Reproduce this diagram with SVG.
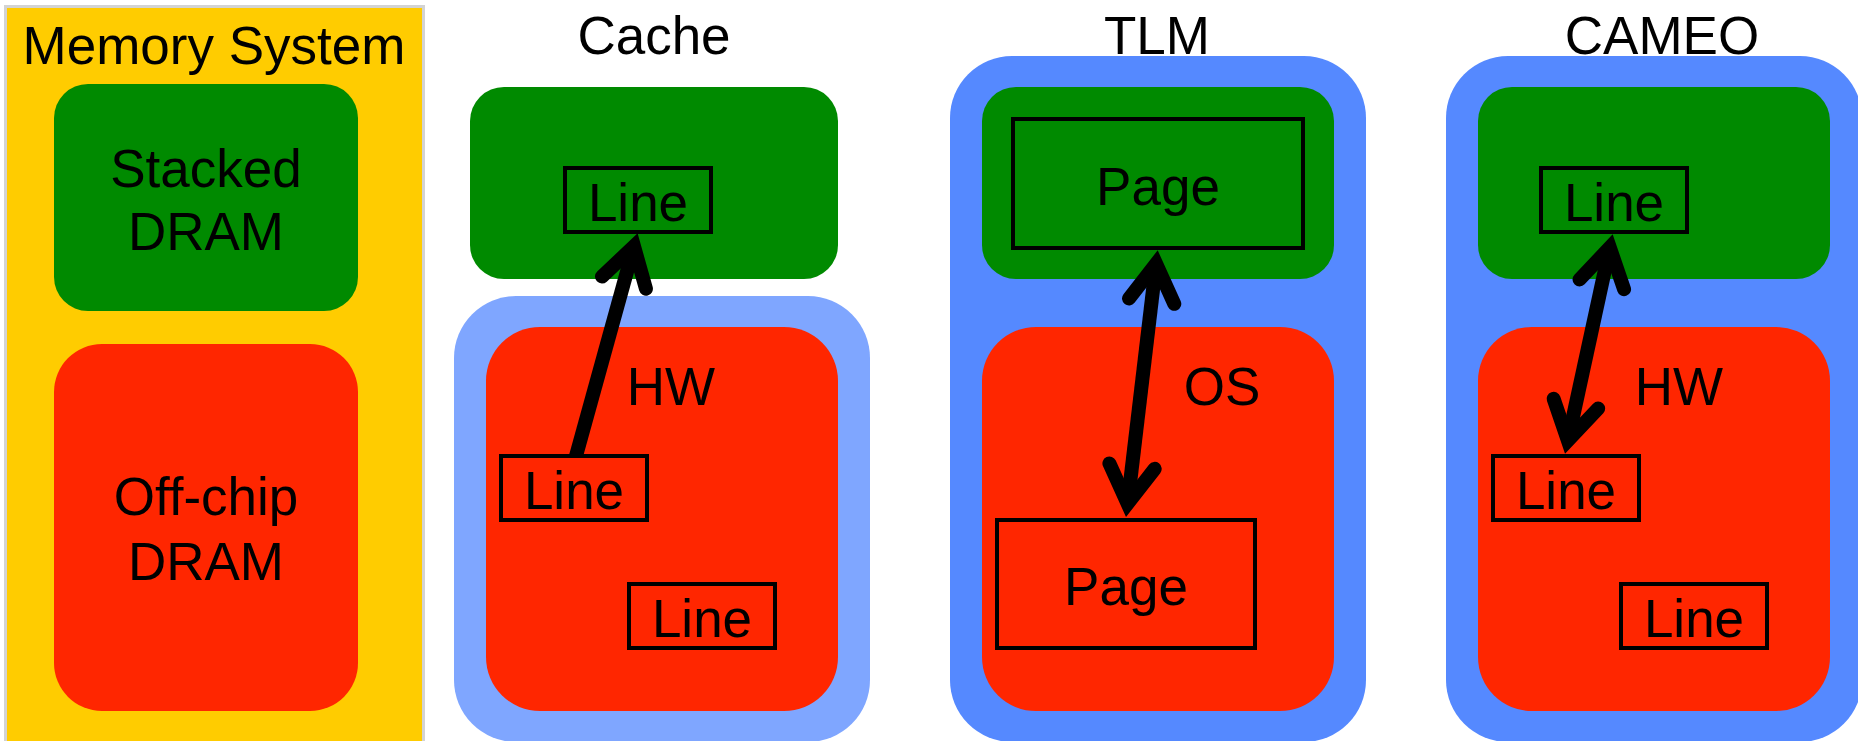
<svg xmlns="http://www.w3.org/2000/svg" width="1858" height="741" viewBox="0 0 1858 741">
  <style>
    text { font-family: "Liberation Sans", Arial, sans-serif; font-size: 53px; fill: #000; text-anchor: middle; }
    .panel { fill: #FFCC00; stroke: #D3D3D3; stroke-width: 3; }
    .stacked { fill: #008A00; }
    .offchip { fill: #FF2600; }
    .wrap-light { fill: #7FA6FF; }
    .wrap { fill: #5589FF; }
    .unit { fill: none; stroke: #000; stroke-width: 4; }
    .link { fill: none; stroke: #000; stroke-width: 14; stroke-linecap: butt; }
  </style>
  <defs>
    <marker id="head" markerUnits="userSpaceOnUse" orient="auto-start-reverse" refX="0" refY="0" markerWidth="80" markerHeight="80" viewBox="-60 -40 80 80" overflow="visible">
      <path d="M -37.7,-22.8 L 0,0 L -37.7,22.8" fill="none" stroke="#000" stroke-width="14" stroke-linecap="round" stroke-linejoin="miter" stroke-miterlimit="6"/>
    </marker>
  </defs>

  <!-- Memory system legend -->
  <g id="memory-system">
    <rect class="panel" x="5.5" y="6.5" width="418" height="740"/>
    <text x="214" y="64">Memory System</text>
  </g>
  <g id="legend-stacked">
    <rect class="stacked" x="54" y="84" width="304" height="227" rx="34" ry="34"/>
    <text x="206" y="187">Stacked</text>
    <text x="206" y="250">DRAM</text>
  </g>
  <g id="legend-offchip">
    <rect class="offchip" x="54" y="344" width="304" height="367" rx="48" ry="48"/>
    <text x="206" y="515">Off-chip</text>
    <text x="206" y="580">DRAM</text>
  </g>

  <!-- Cache organisation -->
  <g id="cache">
    <text x="654" y="54">Cache</text>
    <rect class="stacked" x="470" y="87" width="368" height="192" rx="34" ry="34"/>
    <rect class="wrap-light" x="454" y="296" width="416" height="446" rx="62" ry="62"/>
    <rect class="offchip" x="486" y="327" width="352" height="384" rx="54" ry="54"/>
    <text x="671" y="405">HW</text>
  </g>
  <g id="cache-line-stacked">
    <rect class="unit" x="565" y="168" width="146" height="64"/>
    <text x="638" y="221">Line</text>
  </g>
  <g id="cache-line-a">
    <rect class="unit" x="501" y="456" width="146" height="64"/>
    <text x="574" y="509">Line</text>
  </g>
  <g id="cache-line-b">
    <rect class="unit" x="629" y="584" width="146" height="64"/>
    <text x="702" y="637">Line</text>
  </g>

  <!-- TLM organisation -->
  <g id="tlm">
    <text x="1157" y="54">TLM</text>
    <rect class="wrap" x="950" y="56" width="416" height="686" rx="62" ry="62"/>
    <rect class="stacked" x="982" y="87" width="352" height="192" rx="34" ry="34"/>
    <rect class="offchip" x="982" y="327" width="352" height="384" rx="54" ry="54"/>
    <text x="1222" y="405">OS</text>
  </g>
  <g id="tlm-page-stacked">
    <rect class="unit" x="1013" y="119" width="290" height="129"/>
    <text x="1158" y="205">Page</text>
  </g>
  <g id="tlm-page-offchip">
    <rect class="unit" x="997" y="520" width="258" height="128"/>
    <text x="1126" y="605">Page</text>
  </g>

  <!-- CAMEO organisation -->
  <g id="cameo">
    <text x="1662" y="54">CAMEO</text>
    <rect class="wrap" x="1446" y="56" width="416" height="686" rx="62" ry="62"/>
    <rect class="stacked" x="1478" y="87" width="352" height="192" rx="34" ry="34"/>
    <rect class="offchip" x="1478" y="327" width="352" height="384" rx="54" ry="54"/>
    <text x="1679" y="405">HW</text>
  </g>
  <g id="cameo-line-stacked">
    <rect class="unit" x="1541" y="168" width="146" height="64"/>
    <text x="1614" y="221">Line</text>
  </g>
  <g id="cameo-line-a">
    <rect class="unit" x="1493" y="456" width="146" height="64"/>
    <text x="1566" y="509">Line</text>
  </g>
  <g id="cameo-line-b">
    <rect class="unit" x="1621" y="584" width="146" height="64"/>
    <text x="1694" y="637">Line</text>
  </g>

  <!-- Connectors -->
  <g id="connectors">
    <line class="link" x1="576" y1="456" x2="634" y2="246.3" marker-end="url(#head)"/>
    <line class="link" x1="1127.6" y1="503.6" x2="1156.1" y2="263.7" marker-start="url(#head)" marker-end="url(#head)"/>
    <line class="link" x1="1567.9" y1="440.5" x2="1609.8" y2="247.5" marker-start="url(#head)" marker-end="url(#head)"/>
  </g>
</svg>
